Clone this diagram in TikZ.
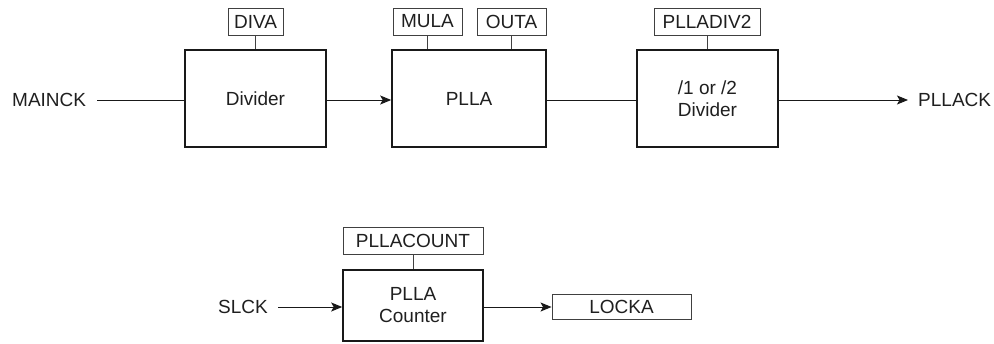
\documentclass[tikz,border=0pt]{standalone}
\usepackage{fontspec}
\setmainfont{Liberation Sans}
\usetikzlibrary{arrows.meta}
\begin{document}
\begin{tikzpicture}[x=1pt,y=-1pt,
  every node/.style={font=\fontsize{19}{22}\selectfont, text=black!88},
  bigbox/.style={draw=black!90, line width=1.6pt, minimum width=141pt, minimum height=97pt, align=center, inner sep=0pt},
  regbox/.style={draw=black!75, line width=0.9pt, minimum height=27pt, inner sep=0pt},
  lbl/.style={inner sep=0pt},
  wire/.style={line width=1pt, draw=black!90},
  arr/.style={wire, -{Stealth[length=11pt,width=9pt,inset=2.5pt]}}
]
\useasboundingbox (0,0) rectangle (994,343);
% top row
\node[lbl, anchor=west] (mainck) at (12,100) {MAINCK};
\node[bigbox] (div) at (255.5,98.5) {Divider};
\node[regbox, minimum width=55pt] (diva) at (255.5,21.5) {DIVA};
\node[bigbox, minimum width=154pt] (plla) at (469,98.5) {PLLA};
\node[regbox, minimum width=69pt] (mula) at (427.5,21.5) {MULA};
\node[regbox, minimum width=69pt] (outa) at (511.5,21.5) {OUTA};
\node[bigbox] (div2) at (707.5,98.5) {/1 or /2\\Divider};
\node[regbox, minimum width=106pt] (plladiv) at (707,21.5) {PLLADIV2};
\node[lbl, anchor=west] (pllack) at (918,100) {PLLACK};
\coordinate (a1) at (97,100);
\coordinate (a2) at (908,100);
\draw[wire] (a1) -- (div.west |- a1);
\draw[arr] (div.east |- a1) -- (plla.west |- a1);
\draw[wire] (plla.east |- a1) -- (div2.west |- a1);
\draw[arr] (div2.east |- a1) -- (a2);
\draw[wire, draw=black!75] (diva.south) -- (div.north -| diva.south);
\draw[wire, draw=black!75] (mula.south) -- (plla.north -| mula.south);
\draw[wire, draw=black!75] (outa.south) -- (plla.north -| outa.south);
\draw[wire, draw=black!75] (plladiv.south) -- (div2.north -| plladiv.south);
% bottom row
\node[bigbox, minimum width=140pt, minimum height=71pt] (cnt) at (413,305.5) {PLLA\\Counter};
\node[regbox, minimum width=140pt] (pcount) at (413,240.5) {PLLACOUNT};
\node[regbox, minimum width=139pt, minimum height=25pt] (locka) at (621.5,306.5) {LOCKA};
\node[lbl, anchor=west] (slck) at (218,307) {SLCK};
\coordinate (b1) at (278,307);
\draw[arr] (b1) -- (cnt.west |- b1);
\draw[arr] (cnt.east |- b1) -- (locka.west |- b1);
\draw[wire, draw=black!75] (pcount.south) -- (cnt.north -| pcount.south);
\end{tikzpicture}
\end{document}
